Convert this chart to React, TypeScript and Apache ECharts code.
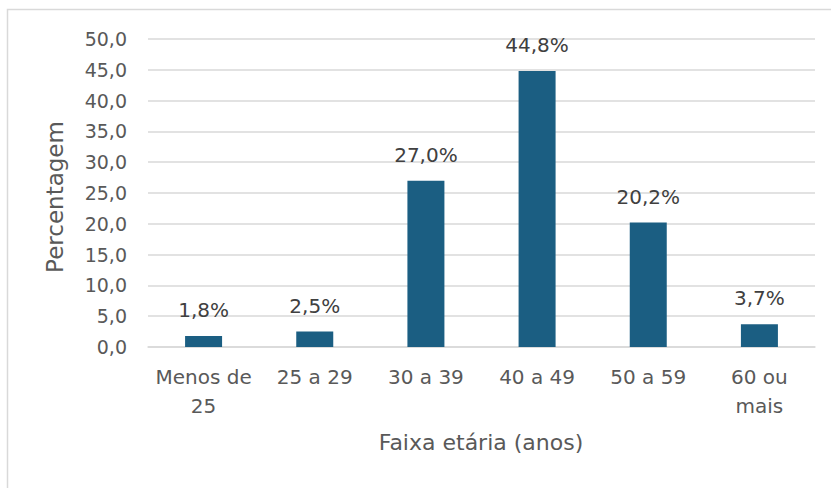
import React, { useEffect, useRef } from "react";
import * as echarts from "echarts";

const categories = ["Menos de\n25", "25 a 29", "30 a 39", "40 a 49", "50 a 59", "60 ou\nmais"];
const values = [1.8, 2.5, 27.0, 44.8, 20.2, 3.7];
const yTitle = "Percentagem";
const xTitle = "Faixa etária (anos)";

const FONT = "DejaVu Sans";

export default function App() {
  const ref = useRef<HTMLDivElement>(null);
  useEffect(() => {
    if (!ref.current) return;
    const chart = echarts.init(ref.current, undefined, { renderer: "svg" });
    chart.setOption({
      animation: false,
      backgroundColor: "#ffffff",
      grid: { left: 148, right: 16, top: 39, bottom: 141, containLabel: false },
      xAxis: {
        type: "category",
        data: categories,
        axisLine: { show: true, lineStyle: { color: "#d9d9d9", width: 1.5 } },
        axisTick: { show: false },
        axisLabel: {
          interval: 0,
          color: "#595959",
          fontFamily: FONT,
          fontSize: 20,
          lineHeight: 29,
          margin: 15,
        },
      },
      yAxis: {
        type: "value",
        min: 0,
        max: 50,
        interval: 5,
        axisLine: { show: false },
        axisTick: { show: false },
        splitLine: { lineStyle: { color: "#d9d9d9", width: 1.5 } },
        axisLabel: {
          color: "#595959",
          fontFamily: FONT,
          fontSize: 19,
          margin: 21,
          formatter: (v: number) => v.toFixed(1).replace(".", ","),
        },
      },
      series: [
        {
          type: "bar",
          data: values,
          barWidth: 37,
          itemStyle: { color: "#1b5e82" },
          label: {
            show: true,
            position: "top",
            distance: 16,
            color: "#404040",
            fontFamily: FONT,
            fontSize: 20,
            formatter: (p: any) => p.value.toFixed(1).replace(".", ",") + "%",
          },
        },
      ],
      graphic: [
        {
          type: "rect",
          shape: { x: 7.5, y: 9.5, width: 900, height: 600 },
          style: { fill: "none", stroke: "#d9d9d9", lineWidth: 1.5 },
          silent: true,
        },
        {
          type: "text",
          x: 481,
          y: 442,
          style: {
            text: xTitle,
            fill: "#595959",
            font: `22px "${FONT}"`,
            textAlign: "center",
            textVerticalAlign: "middle",
          },
        },
        {
          type: "text",
          x: 55,
          y: 197,
          rotation: Math.PI / 2,
          style: {
            text: yTitle,
            fill: "#595959",
            font: `23px "${FONT}"`,
            textAlign: "center",
            textVerticalAlign: "middle",
          },
        },
      ],
    });
    return () => chart.dispose();
  }, []);
  return (
    <div
      ref={ref}
      style={{ position: "fixed", left: 0, top: 0, width: 831, height: 488 }}
    />
  );
}
